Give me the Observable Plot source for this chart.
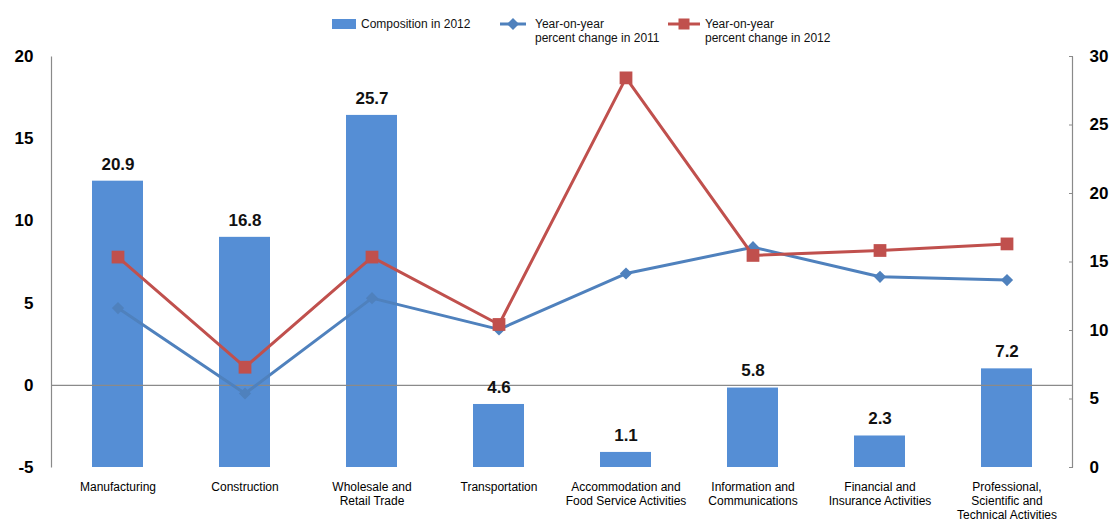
<!DOCTYPE html>
<html><head><meta charset="utf-8">
<script src="https://cdn.jsdelivr.net/npm/d3@7"></script>
<script src="https://cdn.jsdelivr.net/npm/@observablehq/plot@0.6"></script>
<style>
body{margin:0;background:#fff;font-family:"Liberation Sans",Arial,sans-serif;}
#legend{position:relative;height:46px;width:1112px;font-size:12px;color:#111;}
#legend .it{position:absolute;line-height:14px;white-space:nowrap;}
#legend svg{position:absolute;overflow:visible;}
</style></head><body>
<div id="legend"></div>
<div id="chart"></div>
<script>
// ---- data ----
const categories = ["Manufacturing","Construction","Wholesale and Retail Trade","Transportation","Accommodation and Food Service Activities","Information and Communications","Financial and Insurance Activities","Professional, Scientific and Technical Activities"];
const tickLabels = ["Manufacturing","Construction","Wholesale and\nRetail Trade","Transportation","Accommodation and\nFood Service Activities","Information and\nCommunications","Financial and\nInsurance Activities","Professional,\nScientific and\nTechnical Activities"];
const composition2012 = [20.9, 16.8, 25.7, 4.6, 1.1, 5.8, 2.3, 7.2];
const yoy2011 = [4.7, -0.5, 5.3, 3.4, 6.8, 8.4, 6.6, 6.4];
const yoy2012 = [7.8, 1.1, 7.8, 3.7, 18.7, 7.9, 8.2, 8.6];
const leftTicks = [-5, 0, 5, 10, 15, 20];
const rightTicks = [0, 5, 10, 15, 20, 25, 30];
const seriesNames = ["Composition in 2012", "Year-on-year\npercent change in 2011", "Year-on-year\npercent change in 2012"];

const barColor = "#558ED5", blueColor = "#4F81BD", redColor = "#C0504D", axisGray = "#8a8a8a";

// left domain [-5,20], right domain [0,30] mapped onto the same pixel range
const leftDomain = [-5, 20], rightDomain = [0, 30];
const toLeft = v => leftDomain[0] + (v - rightDomain[0]) * (leftDomain[1] - leftDomain[0]) / (rightDomain[1] - rightDomain[0]);
const fromLeft = v => rightDomain[0] + (v - leftDomain[0]) * (rightDomain[1] - rightDomain[0]) / (leftDomain[1] - leftDomain[0]);

const rows = categories.map((c, i) => ({category: c, comp: composition2012[i], y11: yoy2011[i], y12: yoy2012[i]}));

// ---- legend ----
const legend = document.getElementById("legend");
legend.innerHTML = `
  <div style="position:absolute;left:332px;top:19px;width:24px;height:10px;background:${barColor}"></div>
  <div class="it" style="left:361px;top:17px">${seriesNames[0]}</div>
  <svg style="left:500px;top:17px" width="26" height="14"><line x1="0" x2="26" y1="7" y2="7" stroke="${blueColor}" stroke-width="3"/><path d="M13,1L19,7L13,13L7,7Z" fill="${blueColor}"/></svg>
  <div class="it" style="left:535px;top:17px">${seriesNames[1].replace("\n","<br>")}</div>
  <svg style="left:668px;top:17px" width="32" height="14"><line x1="0" x2="32" y1="7" y2="7" stroke="${redColor}" stroke-width="3"/><rect x="10.5" y="1.5" width="11" height="11" fill="${redColor}"/></svg>
  <div class="it" style="left:705px;top:17px">${seriesNames[2].replace("\n","<br>")}</div>`;

// ---- chart ----
const W = 1112, H = 474, mT = 10, mB = 53, mL = 51, mR = 40;
const fw = W - mL - mR, fh = H - mT - mB;

const chart = Plot.plot({
  width: W, height: H,
  marginTop: mT, marginBottom: mB, marginLeft: mL, marginRight: mR,
  style: {fontFamily: "'Liberation Sans', Arial, sans-serif", fontSize: "12px", color: "#000", background: "#fff"},
  x: {type: "band", domain: categories, paddingInner: 0.6, paddingOuter: 0.3},
  y: {domain: leftDomain},
  marks: [
    Plot.barY(rows, {x: "category", y1: leftDomain[0], y2: d => toLeft(d.comp), fill: barColor}),
    Plot.frame({stroke: axisGray, strokeWidth: 1.2, strokeDasharray: `0 ${fw} ${fh} ${fw} ${fh}`}),
    Plot.ruleY([0], {stroke: axisGray, strokeWidth: 1.2}),
    Plot.text(rows, {x: "category", y: d => toLeft(d.comp), text: d => d.comp.toFixed(1), dy: -17, fontSize: 17, fontWeight: "bold", fill: "#111"}),
    Plot.line(rows, {x: "category", y: "y11", stroke: blueColor, strokeWidth: 3}),
    Plot.dot(rows, {x: "category", y: "y11", symbol: "diamond2", r: 5.5, fill: blueColor, stroke: "none"}),
    Plot.line(rows, {x: "category", y: "y12", stroke: redColor, strokeWidth: 3}),
    Plot.dot(rows, {x: "category", y: "y12", symbol: "square", r: 7.2, fill: redColor, stroke: "none"}),
    Plot.axisY({anchor: "left", ticks: leftTicks, tickFormat: v => String(v), tickSize: 0, tickPadding: 18, fontSize: 17, fontWeight: "bold", label: null}),
    Plot.axisY({anchor: "right", ticks: rightTicks.map(toLeft), tickFormat: v => String(Math.round(fromLeft(v))), tickSize: 0, tickPadding: 17, fontSize: 17, fontWeight: "bold", label: null}),
    Plot.axisY({anchor: "right", ticks: rightTicks.map(toLeft), tickSize: 4, dx: -4, stroke: axisGray, fill: "none", label: null}),
    Plot.axisX({tickSize: 0, tickPadding: 13, tickFormat: d => tickLabels[categories.indexOf(d)], fontSize: 12, lineHeight: 1.18, label: null})
  ]
});
document.getElementById("chart").appendChild(chart);
</script>
</body></html>
